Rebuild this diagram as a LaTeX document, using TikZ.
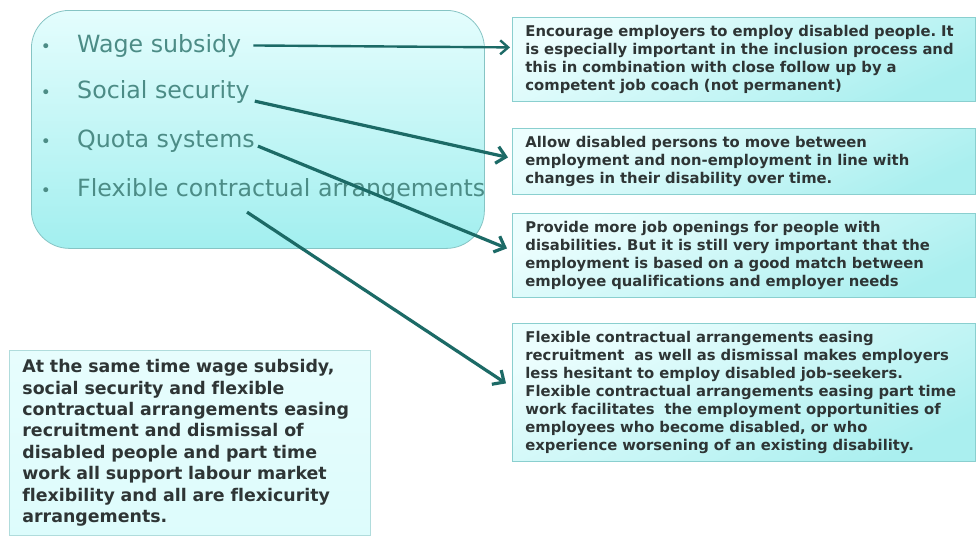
\documentclass[tikz,border=0pt]{standalone}
\usepackage{fontspec}
\setmainfont[Ligatures=NoCommon]{DejaVu Sans}
\usetikzlibrary{arrows.meta}
\frenchspacing
\definecolor{arrowcol}{HTML}{1C6A66}
\definecolor{itemcol}{HTML}{4C8C86}
\definecolor{bodytxt}{HTML}{2E3535}
\definecolor{lbtop}{HTML}{E4FDFD}
\definecolor{lbbot}{HTML}{A2EFEF}
\definecolor{lbborder}{HTML}{86C4C4}
\definecolor{rbtop}{HTML}{ECFEFE}
\definecolor{rbbot}{HTML}{AAEFEF}
\definecolor{rbborder}{HTML}{8ACFCF}
\definecolor{nbfill}{HTML}{DDFCFC}
\definecolor{nbborder}{HTML}{B0DCDC}
\begin{document}
\begin{tikzpicture}[x=1pt,y=-1pt,
  leftbox/.style={anchor=north west, rounded corners=38pt, draw=lbborder, line width=0.8pt,
    top color=lbtop, bottom color=lbbot, inner sep=0pt},
  itemtext/.style={anchor=base west, inner sep=0pt, text=itemcol, font=\fontsize{23.7}{28}\selectfont},
  bul/.style={anchor=base, inner sep=0pt, text=itemcol, font=\fontsize{17}{20}\selectfont},
  rbox/.style={anchor=north west, minimum width=463pt, text width=437pt, inner xsep=13pt, inner ysep=0pt,
    align=left, draw=rbborder, line width=0.8pt, top color=rbtop, bottom color=rbbot, shading angle=25,
    text=bodytxt, font=\bfseries\fontsize{14.8}{18}\selectfont},
  notebox/.style={anchor=north west, minimum width=361pt, minimum height=185pt, text width=335pt,
    inner xsep=13pt, inner ysep=0pt, align=left, draw=nbborder, line width=0.8pt,
    top color=nbfill!70!white, bottom color=nbfill, text=bodytxt, font=\bfseries\fontsize{17.4}{21.4}\selectfont},
  arr/.style={draw=arrowcol, line width=3.2pt, -{Straight Barb[length=9pt,width=17pt]}},
  thinarr/.style={draw=arrowcol, line width=2.4pt, -{Straight Barb[length=8pt,width=14pt]}}
]
\useasboundingbox (0,0) rectangle (977,536);
\fill[white] (0,0) rectangle (977,536);

% left rounded box
\node[leftbox, minimum width=453pt, minimum height=238pt] (lb) at (31,10) {};

\node[bul] (d1) at (46,52) {•};
\node[bul] (d2) at (46,98) {•};
\node[bul] (d3) at (46,147) {•};
\node[bul] (d4) at (46,196) {•};
\node[itemtext] (wage) at (77,52) {Wage subsidy};
\node[itemtext] (social) at (77,98) {Social security};
\node[itemtext] (quota) at (77,147) {Quota systems};
\node[itemtext] (flex) at (77,196) {Flexible contractual arrangements};

% right boxes
\node[rbox, minimum height=84pt] (b1) at (512,17) {Encourage employers to employ disabled people. It\\
is especially important in the inclusion process and\\
this in combination with close follow up by a\\
competent job coach (not permanent)};
\node[rbox, minimum height=66pt] (b2) at (512,128) {Allow disabled persons to move between\\
employment and non-employment in line with\\
changes in their disability over time.};
\node[rbox, minimum height=84pt] (b3) at (512,213) {Provide more job openings for people with\\
disabilities. But it is still very important that the\\
employment is based on a good match between\\
employee qualifications and employer needs};
\node[rbox, minimum height=138pt] (b4) at (512,323) {Flexible contractual arrangements easing\\
recruitment\ \ as well as dismissal makes employers\\
less hesitant to employ disabled job-seekers.\\
Flexible contractual arrangements easing part time\\
work facilitates\ \ the employment opportunities of\\
employees who become disabled, or who\\
experience worsening of an existing disability.};

% bottom-left note
\node[notebox] (note) at (9,350) {At the same time wage subsidy,\\
social security and flexible\\
contractual arrangements easing\\
recruitment and dismissal of\\
disabled people and part time\\
work all support labour market\\
flexibility and all are flexicurity\\
arrangements.};

% arrows
\draw[thinarr] ([xshift=12pt]wage.east) -- ([xshift=-2pt,yshift=12pt]b1.west);
\draw[arr] ([xshift=5pt,yshift=2pt]social.south east) -- ([xshift=-4pt,yshift=4pt]b2.west);
\draw[arr] ([xshift=3pt,yshift=6pt]quota.south east) -- ([xshift=-5pt,yshift=7pt]b3.west);
\draw[arr] ([xshift=170pt,yshift=-11pt]flex.south west) -- ([xshift=-6pt,yshift=9pt]b4.west);
\end{tikzpicture}
\end{document}
